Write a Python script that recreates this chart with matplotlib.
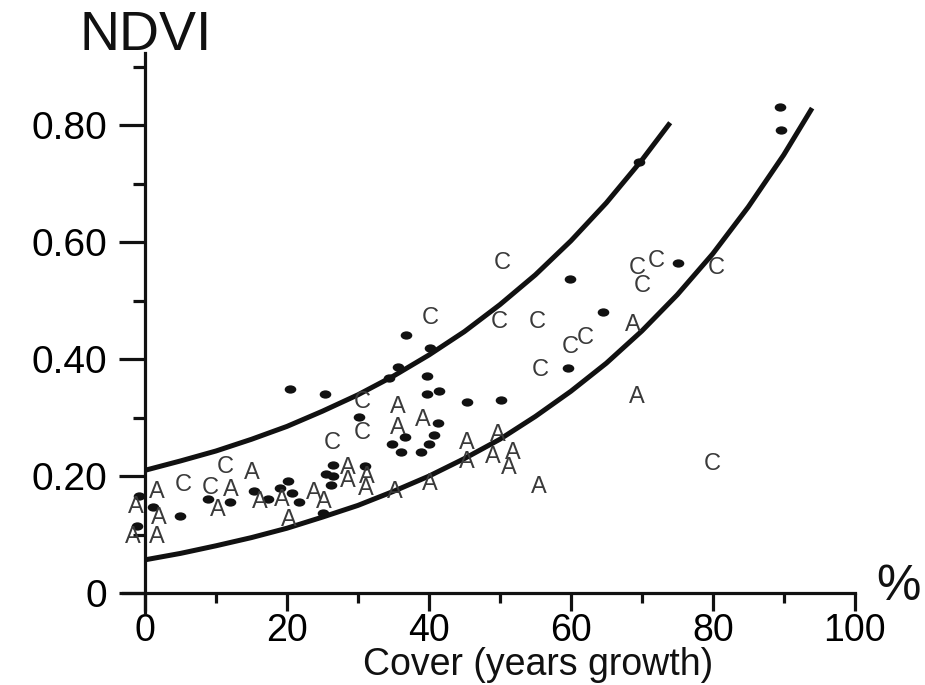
import matplotlib
matplotlib.use("Agg")
import matplotlib.pyplot as plt
from matplotlib.path import Path
from matplotlib.transforms import Affine2D

plt.rcParams['font.family'] = ['Liberation Sans', 'DejaVu Sans']

# black dots
dot_x = [-0.85, -1.13, 1.13, 4.93, 8.87, 11.97, 15.35, 17.32, 19.01, 20.14, 20.70, 21.69,
         26.48, 25.49, 26.48, 26.20, 25.07, 20.42, 25.35, 30.14, 30.99, 34.37, 35.63, 36.76,
         39.72, 39.72, 41.41, 40.14, 41.27, 40.70, 36.62, 34.79, 36.06, 40.00, 38.87, 45.35,
         50.14, 59.58, 59.86, 64.51, 75.07, 69.58, 89.44, 89.58]
dot_y = [0.166, 0.115, 0.147, 0.132, 0.161, 0.156, 0.174, 0.161, 0.179, 0.191, 0.171, 0.156,
         0.219, 0.203, 0.200, 0.185, 0.137, 0.349, 0.340, 0.301, 0.217, 0.368, 0.386, 0.441,
         0.371, 0.340, 0.345, 0.419, 0.291, 0.270, 0.267, 0.255, 0.241, 0.255, 0.241, 0.326,
         0.330, 0.385, 0.537, 0.480, 0.564, 0.737, 0.831, 0.791]

# "A" samples
a_x = [1.69, -1.27, 1.97, 1.69, -1.69, 10.28, 12.11, 15.07, 16.20, 19.30, 20.28, 23.80,
       25.21, 28.59, 28.59, 31.27, 31.13, 35.21, 40.14, 35.63, 35.63, 39.15, 45.35, 45.35,
       49.72, 49.01, 51.83, 51.27, 55.49, 68.73, 69.30]
a_y = [0.173, 0.147, 0.128, 0.096, 0.096, 0.142, 0.176, 0.205, 0.156, 0.159, 0.125, 0.171,
       0.156, 0.214, 0.191, 0.198, 0.178, 0.173, 0.186, 0.318, 0.282, 0.296, 0.256, 0.224,
       0.270, 0.232, 0.239, 0.214, 0.181, 0.458, 0.335]

# "C" samples
c_x = [11.27, 5.35, 9.15, 40.14, 30.56, 30.56, 26.34, 50.28, 49.86, 55.21, 55.63, 59.86,
       61.97, 69.30, 71.97, 70.00, 80.56, 79.86]
c_y = [0.215, 0.185, 0.179, 0.470, 0.326, 0.274, 0.256, 0.564, 0.463, 0.463, 0.381, 0.421,
       0.436, 0.556, 0.568, 0.525, 0.556, 0.221]

# envelope curves
upper_x = [0, 5, 10, 15, 20, 25, 30, 35, 40, 45, 50, 55, 60, 65, 70, 74]
upper_y = [0.210, 0.226, 0.243, 0.263, 0.285, 0.311, 0.339, 0.371, 0.407, 0.447, 0.493,
           0.544, 0.602, 0.667, 0.740, 0.804]
lower_x = [0, 5, 10, 15, 20, 25, 30, 35, 40, 45, 50, 55, 60, 65, 70, 75, 80, 85, 90, 94]
lower_y = [0.057, 0.068, 0.081, 0.095, 0.111, 0.130, 0.150, 0.174, 0.200, 0.230, 0.263,
           0.302, 0.345, 0.393, 0.448, 0.510, 0.580, 0.660, 0.749, 0.829]

fig = plt.figure(figsize=(9.25, 6.85), dpi=100)
ax = fig.add_axes([0.133, 0.105, 0.791, 0.8175])

ax.plot(upper_x, upper_y, color='#111111', lw=3.6, solid_capstyle='butt')
ax.plot(lower_x, lower_y, color='#111111', lw=3.6, solid_capstyle='butt')

oval = Path.unit_circle().transformed(Affine2D().scale(1.4, 1.0))
ax.scatter(dot_x, dot_y, marker=oval, s=70, color='#111111', linewidths=0, zorder=3)

for x, y in zip(a_x, a_y):
    ax.text(x, y, 'A', fontsize=17, color='#3a3a3a', ha='center', va='center')
for x, y in zip(c_x, c_y):
    ax.text(x, y, 'C', fontsize=17, color='#3a3a3a', ha='center', va='center')

ax.set_xlim(-3.1, 100)
ax.set_ylim(-0.034, 0.923)

ax.spines['top'].set_visible(False)
ax.spines['right'].set_visible(False)
ax.spines['left'].set_position(('data', 0))
ax.spines['bottom'].set_position(('data', 0))
ax.spines['left'].set_bounds(-0.034, 0.923)
ax.spines['bottom'].set_bounds(-3.1, 100)
for s in ('left', 'bottom'):
    ax.spines[s].set_linewidth(2.3)
    ax.spines[s].set_color('#111111')

ax.set_xticks([0, 20, 40, 60, 80, 100])
ax.set_xticks([10, 30, 50, 70, 90], minor=True)
ax.set_yticks([0, 0.2, 0.4, 0.6, 0.8])
ax.set_yticklabels(['0', '0.20', '0.40', '0.60', '0.80'])
ax.set_yticks([0.1, 0.3, 0.5, 0.7, 0.9], minor=True)

ax.tick_params(axis='x', which='major', direction='out', length=13, width=2.3,
               labelsize=27, pad=1, color='#111111')
ax.tick_params(axis='x', which='minor', direction='out', length=7, width=2.3, color='#111111')
ax.tick_params(axis='y', which='major', direction='out', length=19, width=2.3,
               labelsize=28, pad=8, color='#111111')
ax.tick_params(axis='y', which='minor', direction='out', length=9, width=2.3, color='#111111')

fig.text(80 / 925, 1 - 50 / 685, 'NDVI', fontsize=40, va='baseline', ha='left', color='#111111')
fig.text(876 / 925, 1 - 600 / 685, '%', fontsize=36, va='baseline', ha='left', color='#111111')
fig.text(538 / 925, 1 - 675 / 685, 'Cover (years growth)', fontsize=27, va='baseline',
         ha='center', color='#111111')

fig.savefig('out.png', dpi=100)
